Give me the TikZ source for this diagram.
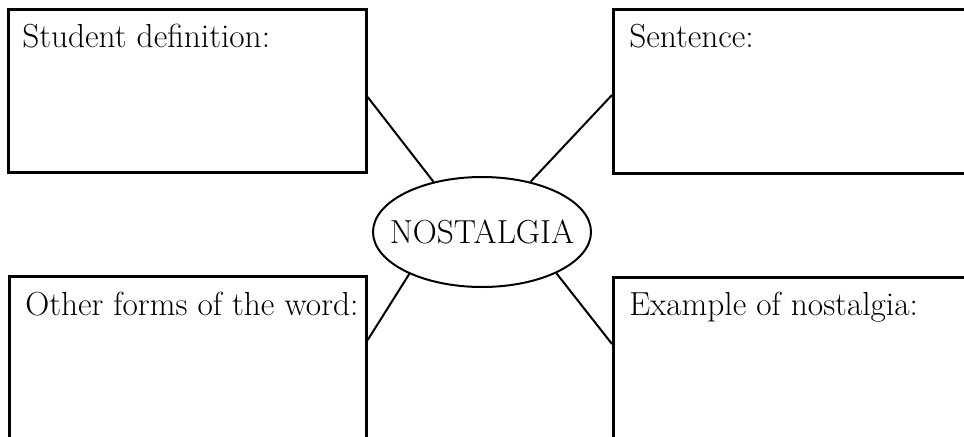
\documentclass[tikz,border=0pt]{standalone}
\usetikzlibrary{shapes.geometric}

\tikzset{
  box/.style={draw, line width=2pt, inner sep=0pt, anchor=north west},
  lbl/.style={anchor=base west, inner sep=0pt, font=\fontsize{25}{30}\selectfont},
  link/.style={line width=1.5pt}
}

\begin{document}
\begin{tikzpicture}[x=0.75pt,y=-0.75pt]
\useasboundingbox (0,0) rectangle (964,436);
\clip (0,0) rectangle (964,436);

% the four boxes
\node[box, minimum width=268.5pt, minimum height=122.25pt] (defn) at (7,8) {};
\node[box, minimum width=300pt, minimum height=123pt] (sent) at (612,8) {};
\node[box, minimum width=267.75pt, minimum height=150pt] (forms) at (8,275) {};
\node[box, minimum width=300pt, minimum height=150pt] (expl) at (612,276) {};

\node[lbl] (defnt) at ([xshift=11.25pt,yshift=-29.25pt]defn.north west) {Student definition:};
\node[lbl] (sentt) at ([xshift=12.75pt,yshift=-29.25pt]sent.north west) {Sentence:};
\node[lbl] (formst) at ([xshift=12.75pt,yshift=-30pt]forms.north west) {Other forms of the word:};
\node[lbl] (explt) at ([xshift=12.75pt,yshift=-29.25pt]expl.north west) {Example of nostalgia:};

% the word
\node[ellipse, draw, line width=1.5pt, minimum width=163.5pt, minimum height=82.5pt,
      inner sep=0pt] (word) at (482,232) {};
\node[inner sep=0pt, font=\fontsize{25}{30}\selectfont] (wordt) at (word.center) {NOSTALGIA};

\draw[link] ([yshift=-66.75pt]defn.north east) -- (word.134);
\draw[link] ([yshift=-65.25pt]sent.north west) -- (word.46);
\draw[link] ([yshift=-48.75pt]forms.north east) -- (word.210);
\draw[link] ([yshift=-51pt]expl.north west) -- (word.331);

\end{tikzpicture}
\end{document}
